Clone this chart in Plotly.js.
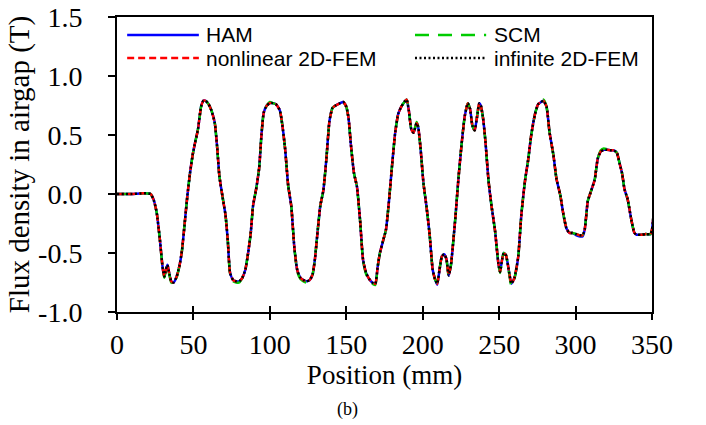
<!DOCTYPE html>
<html><head><meta charset="utf-8">
<script src="https://cdn.plot.ly/plotly-3.0.1.min.js"></script>
<style>body{margin:0;background:#fff}</style></head>
<body><div id="chart" style="width:706px;height:425px"></div>
<script>
const position = [0,5,10,15,20,22,24,26,28,30,31,32,33,34,35.5,37,39,41,42.5,44.5,46,47.7,49.5,51,53,55,56.5,58,60,62,64,65.5,67,69,71,72.5,74,76,78,80,82,84,86,87.5,89,91,93,94.5,96,98,100,102,104,106.5,108,110,112,114,116,118,120,122,124,126,128,129.5,131,133,135,137,139,141,143,146,148,150,151.5,153,155,157,159,161,163,165,167,169,170.5,172,174,176,178,180,182,184,186,188,189.5,191,192.5,194,196,197,198.5,200.5,202.5,204.5,206.5,208,209.5,211,212.5,214,215.5,217,218.5,220,221.5,223.3,225.5,227.5,229.5,231,232.5,234,235.5,237,238,239.5,241,243,245,247.3,249.5,250.6,252,253,254.5,256.5,258,260,262.5,264.5,267,269,271,273.5,275.5,277.5,279,281,283,285.5,287.5,290,292,294,296,298,300.5,303,304.5,306,308,310,312.5,314.5,316.5,318.5,320.5,323,325,327,329,330.5,332,334,336.5,338.5,340,343,346,349,350,351,352];

const ham = [0,0,0,0.005,0.005,0,-0.05,-0.16,-0.38,-0.64,-0.7,-0.64,-0.6,-0.66,-0.74,-0.75,-0.7,-0.6,-0.48,-0.22,-0.02,0.17,0.33,0.43,0.55,0.74,0.79,0.79,0.76,0.7,0.6,0.4,0.15,-0.02,-0.18,-0.4,-0.67,-0.73,-0.74,-0.74,-0.71,-0.64,-0.48,-0.33,-0.1,0.04,0.22,0.5,0.69,0.75,0.77,0.77,0.76,0.71,0.6,0.38,0.07,-0.1,-0.45,-0.65,-0.71,-0.73,-0.74,-0.73,-0.68,-0.55,-0.35,-0.1,0.03,0.3,0.62,0.73,0.75,0.77,0.78,0.74,0.64,0.42,0.18,0.06,-0.22,-0.56,-0.67,-0.72,-0.75,-0.76,-0.62,-0.5,-0.4,-0.3,-0.05,0.25,0.52,0.68,0.74,0.78,0.8,0.7,0.55,0.52,0.6,0.57,0.4,0.09,-0.11,-0.34,-0.64,-0.72,-0.77,-0.64,-0.53,-0.51,-0.55,-0.69,-0.6,-0.4,-0.18,0.12,0.43,0.66,0.77,0.72,0.58,0.54,0.65,0.77,0.75,0.64,0.45,0.12,-0.1,-0.31,-0.59,-0.66,-0.55,-0.5,-0.52,-0.66,-0.76,-0.71,-0.53,-0.18,0.12,0.29,0.5,0.68,0.76,0.78,0.79,0.74,0.52,0.33,0.13,-0.01,-0.17,-0.29,-0.33,-0.33,-0.35,-0.36,-0.36,-0.3,-0.06,0.02,0.12,0.3,0.36,0.375,0.375,0.37,0.37,0.35,0.25,0.17,0.04,-0.04,-0.22,-0.33,-0.345,-0.345,-0.34,-0.34,-0.3,-0.18,-0.08];

const nonlinearFem = [0,0,0,0.005,0.005,0,-0.05,-0.16,-0.38,-0.64,-0.7,-0.64,-0.6,-0.66,-0.74,-0.75,-0.7,-0.6,-0.48,-0.22,-0.02,0.17,0.33,0.43,0.55,0.74,0.79,0.79,0.76,0.7,0.6,0.4,0.15,-0.02,-0.18,-0.4,-0.67,-0.73,-0.74,-0.74,-0.71,-0.64,-0.48,-0.33,-0.1,0.04,0.22,0.5,0.69,0.75,0.77,0.77,0.76,0.71,0.6,0.38,0.07,-0.1,-0.45,-0.65,-0.71,-0.73,-0.74,-0.73,-0.68,-0.55,-0.35,-0.1,0.03,0.3,0.62,0.73,0.75,0.77,0.78,0.74,0.64,0.42,0.18,0.06,-0.22,-0.56,-0.67,-0.72,-0.75,-0.76,-0.62,-0.5,-0.4,-0.3,-0.05,0.25,0.52,0.68,0.74,0.78,0.8,0.7,0.55,0.52,0.6,0.57,0.4,0.09,-0.11,-0.34,-0.64,-0.72,-0.76,-0.64,-0.53,-0.51,-0.55,-0.69,-0.6,-0.4,-0.18,0.12,0.43,0.66,0.77,0.72,0.58,0.54,0.65,0.77,0.75,0.64,0.45,0.12,-0.1,-0.31,-0.59,-0.66,-0.55,-0.5,-0.52,-0.66,-0.76,-0.71,-0.53,-0.18,0.12,0.29,0.5,0.68,0.76,0.78,0.79,0.74,0.52,0.33,0.13,-0.01,-0.17,-0.29,-0.33,-0.33,-0.34,-0.35,-0.35,-0.3,-0.06,0.02,0.12,0.3,0.36,0.375,0.375,0.37,0.37,0.35,0.25,0.17,0.04,-0.04,-0.22,-0.33,-0.345,-0.345,-0.34,-0.34,-0.3,-0.18,-0.08];

const scm = [0,0,0,0.005,0.005,0,-0.05,-0.16,-0.38,-0.65,-0.71,-0.64,-0.6,-0.67,-0.75,-0.77,-0.71,-0.6,-0.48,-0.22,-0.02,0.17,0.33,0.43,0.55,0.74,0.8,0.79,0.76,0.7,0.6,0.4,0.15,-0.02,-0.18,-0.4,-0.68,-0.74,-0.75,-0.75,-0.71,-0.64,-0.48,-0.33,-0.1,0.04,0.22,0.5,0.69,0.75,0.78,0.77,0.76,0.71,0.6,0.38,0.07,-0.1,-0.45,-0.66,-0.72,-0.74,-0.75,-0.73,-0.68,-0.55,-0.35,-0.1,0.03,0.3,0.62,0.73,0.75,0.77,0.78,0.74,0.64,0.42,0.18,0.06,-0.22,-0.57,-0.68,-0.73,-0.76,-0.77,-0.62,-0.5,-0.4,-0.3,-0.05,0.25,0.52,0.68,0.74,0.78,0.8,0.7,0.55,0.52,0.61,0.57,0.4,0.09,-0.11,-0.34,-0.64,-0.72,-0.75,-0.64,-0.53,-0.51,-0.55,-0.7,-0.6,-0.4,-0.18,0.12,0.43,0.66,0.77,0.72,0.58,0.54,0.65,0.78,0.75,0.64,0.45,0.12,-0.1,-0.31,-0.59,-0.67,-0.55,-0.5,-0.52,-0.67,-0.78,-0.72,-0.53,-0.18,0.12,0.29,0.5,0.68,0.76,0.79,0.8,0.74,0.52,0.33,0.13,-0.01,-0.17,-0.29,-0.33,-0.33,-0.34,-0.35,-0.35,-0.3,-0.06,0.02,0.12,0.3,0.37,0.385,0.38,0.37,0.37,0.35,0.25,0.17,0.04,-0.04,-0.22,-0.33,-0.345,-0.345,-0.34,-0.34,-0.3,-0.18,-0.08];

const infiniteFem = [0,0,0,0.005,0.005,0,-0.05,-0.16,-0.38,-0.64,-0.7,-0.64,-0.6,-0.66,-0.74,-0.75,-0.7,-0.6,-0.48,-0.22,-0.02,0.17,0.33,0.43,0.55,0.74,0.79,0.79,0.76,0.7,0.6,0.4,0.15,-0.02,-0.18,-0.4,-0.67,-0.73,-0.74,-0.74,-0.71,-0.64,-0.48,-0.33,-0.1,0.04,0.22,0.5,0.69,0.75,0.77,0.77,0.76,0.71,0.6,0.38,0.07,-0.1,-0.45,-0.65,-0.71,-0.73,-0.74,-0.73,-0.68,-0.55,-0.35,-0.1,0.03,0.3,0.62,0.73,0.75,0.77,0.78,0.74,0.64,0.42,0.18,0.06,-0.22,-0.56,-0.67,-0.72,-0.75,-0.76,-0.62,-0.5,-0.4,-0.3,-0.05,0.25,0.52,0.68,0.74,0.78,0.8,0.7,0.55,0.52,0.6,0.57,0.4,0.09,-0.11,-0.34,-0.64,-0.72,-0.76,-0.64,-0.53,-0.51,-0.55,-0.69,-0.6,-0.4,-0.18,0.12,0.43,0.66,0.77,0.72,0.58,0.54,0.65,0.77,0.75,0.64,0.45,0.12,-0.1,-0.31,-0.59,-0.66,-0.55,-0.5,-0.52,-0.66,-0.76,-0.71,-0.53,-0.18,0.12,0.29,0.5,0.68,0.76,0.78,0.79,0.74,0.52,0.33,0.13,-0.01,-0.17,-0.29,-0.33,-0.33,-0.34,-0.35,-0.35,-0.3,-0.06,0.02,0.12,0.3,0.36,0.375,0.375,0.37,0.37,0.35,0.25,0.17,0.04,-0.04,-0.22,-0.33,-0.345,-0.345,-0.34,-0.34,-0.3,-0.18,-0.08];

const seriesNames = ['HAM', 'nonlinear 2D-FEM', 'SCM', 'infinite 2D-FEM'];
const xTickVals = [0, 50, 100, 150, 200, 250, 300, 350];
const xTickText = ['0', '50', '100', '150', '200', '250', '300', '350'];
const yTickVals = [-1.0, -0.5, 0.0, 0.5, 1.0, 1.5];
const yTickText = ['-1.0', '-0.5', '0.0', '0.5', '1.0', '1.5'];
const xTitle = 'Position (mm)';
const yTitle = 'Flux density in airgap (T)';
const caption = '(b)';

const styles = {
  'HAM': {color: '#0000FF', dash: 'solid', width: 2.5},
  'SCM': {color: '#00CC00', dash: '14px,9px', width: 2.5},
  'nonlinear 2D-FEM': {color: '#FF0000', dash: '7px,4px', width: 2.5},
  'infinite 2D-FEM': {color: '#000000', dash: '2px,2.5px', width: 2.5}
};
const valuesByName = {
  'HAM': ham, 'SCM': scm, 'nonlinear 2D-FEM': nonlinearFem, 'infinite 2D-FEM': infiniteFem
};
const drawOrder = ['HAM', 'SCM', 'nonlinear 2D-FEM', 'infinite 2D-FEM'];

const traces = drawOrder.map(name => ({
  type: 'scatter', mode: 'lines', name: name,
  x: position, y: valuesByName[name],
  line: {color: styles[name].color, dash: styles[name].dash, width: styles[name].width, shape: 'spline', smoothing: 0.5},
  showlegend: false, hoverinfo: 'skip'
}));

// legend drawn as decoration (2 columns x 2 rows)
const legendSlots = {
  'HAM': {x0: 0.019, x1: 0.153, tx: 0.163, y: 0.939},
  'nonlinear 2D-FEM': {x0: 0.019, x1: 0.153, tx: 0.163, y: 0.861},
  'SCM': {x0: 0.557, x1: 0.690, tx: 0.700, y: 0.939},
  'infinite 2D-FEM': {x0: 0.557, x1: 0.690, tx: 0.700, y: 0.861}
};
const shapes = [];
const annotations = [];
seriesNames.forEach(name => {
  const s = legendSlots[name];
  shapes.push({type: 'line', xref: 'paper', yref: 'paper', x0: s.x0, x1: s.x1, y0: s.y, y1: s.y,
    line: {color: styles[name].color, dash: styles[name].dash, width: styles[name].width}});
  annotations.push({xref: 'paper', yref: 'paper', x: s.tx, y: s.y, xanchor: 'left', yanchor: 'middle',
    text: name, showarrow: false, font: {family: 'Liberation Sans, Arial, sans-serif', size: 21, color: '#000'}});
});
annotations.push({xref: 'paper', yref: 'paper', x: 0.43, y: -0.33, xanchor: 'center', yanchor: 'middle',
  text: caption, showarrow: false, font: {family: 'Liberation Serif, Times New Roman, serif', size: 18, color: '#000'}});

const serif = 'Liberation Serif, Times New Roman, serif';
const tickFont = {family: serif, size: 28, color: '#000'};
const layout = {
  width: 706, height: 425,
  margin: {l: 117, r: 54, t: 17, b: 113},
  paper_bgcolor: '#fff', plot_bgcolor: '#fff',
  showlegend: false,
  xaxis: {
    range: [0, 350], tickvals: xTickVals, ticktext: xTickText,
    ticks: 'outside', ticklen: 6, tickwidth: 2, tickcolor: '#000',
    showline: true, linewidth: 2, linecolor: '#000', mirror: true,
    showgrid: false, zeroline: false, tickfont: tickFont,
    title: {text: xTitle, font: {family: serif, size: 27, color: '#000'}, standoff: 4},
    automargin: false
  },
  xaxis2: {
    range: [0, 350], overlaying: 'x', anchor: 'y', side: 'bottom', matches: 'x',
    tickvals: xTickVals, ticks: 'inside', ticklen: 6, tickwidth: 2, tickcolor: '#000',
    showticklabels: false, showline: false, showgrid: false, zeroline: false
  },
  yaxis: {
    range: [-1.0, 1.5], tickvals: yTickVals, ticktext: yTickText,
    ticks: 'outside', ticklen: 7, tickwidth: 2, tickcolor: '#000',
    showline: true, linewidth: 2, linecolor: '#000', mirror: true,
    showgrid: false, zeroline: false, tickfont: tickFont, ticklabelstandoff: 20,
    title: {text: yTitle, font: {family: serif, size: 29, color: '#000'}, standoff: 0},
    automargin: false
  },
  shapes: shapes,
  annotations: annotations
};
traces.push({type: 'scatter', mode: 'lines', x: [0, 350], y: [null, null], xaxis: 'x2', yaxis: 'y', showlegend: false, hoverinfo: 'skip'});
Plotly.newPlot('chart', traces, layout, {staticPlot: true, displayModeBar: false});
</script>
</body></html>
